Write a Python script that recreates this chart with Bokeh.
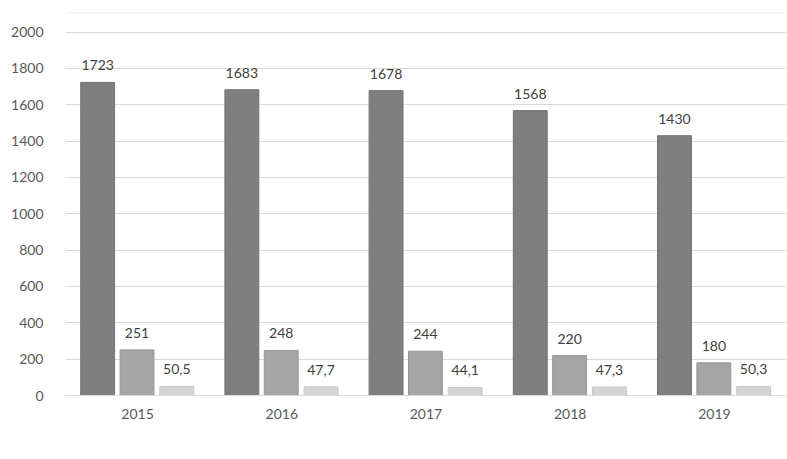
from bokeh.plotting import figure
from bokeh.models import (ColumnDataSource, FactorRange, LabelSet, Legend, LegendItem,
                          FixedTicker, Span)
from bokeh.core.properties import value
from bokeh.transform import dodge
from bokeh.embed import file_html
from bokeh.resources import INLINE

# Data
years = ["2015", "2016", "2017", "2018", "2019"]
victims = [1723, 1683, 1678, 1568, 1430]
deaths = [251, 248, 244, 220, 180]
severity = [50.5, 47.7, 44.1, 47.3, 50.3]
series_names = ["Number of victims", "Number of death", "occupational injury severity rate"]
y_ticks = [0, 200, 400, 600, 800, 1000, 1200, 1400, 1600, 1800, 2000]

FONT = "Lato"
colors = ["#7f7f7f", "#a5a5a5", "#d4d4d4"]
edges = ["#727272", "#989898", "#c8c8c8"]
Y_TOP = 2108  # headroom above the last gridline, up to the chart's top rule


def fmt(v):
    if isinstance(v, float):
        return f"{v:.1f}".replace(".", ",")
    return str(v)


source = ColumnDataSource(dict(
    year=years,
    victims=victims,
    deaths=deaths,
    severity=severity,
    victims_lbl=[fmt(v) for v in victims],
    deaths_lbl=[fmt(v) for v in deaths],
    severity_lbl=[fmt(v) for v in severity],
))

p = figure(
    x_range=FactorRange(*years, range_padding=0),
    y_range=(0, Y_TOP),
    frame_width=721, frame_height=383,
    output_backend="svg", toolbar_location=None,
    min_border_left=65, min_border_right=1, min_border_top=12, min_border_bottom=0,
    background_fill_color="white", border_fill_color="white",
)
p.outline_line_color = None

offsets = [-0.277, -0.004, 0.272]
cols = ["victims", "deaths", "severity"]
renderers = []
for col, off, c, e in zip(cols, offsets, colors, edges):
    r = p.vbar(x=dodge("year", off, range=p.x_range), top=col, width=0.235,
               source=source, fill_color=c, line_color=e, line_width=1)
    renderers.append(r)
    labels = LabelSet(x=dodge("year", off, range=p.x_range), y=col, text=col + "_lbl",
                      source=source, text_align="center", text_baseline="bottom",
                      y_offset=12, text_font=value(FONT), text_font_size=value("14px"),
                      text_color="#404040")
    p.add_layout(labels)

# Thin rule across the top of the chart area
p.add_layout(Span(location=Y_TOP, dimension="width", line_color="#dedede", line_width=1))

# Axes
p.yaxis.ticker = FixedTicker(ticks=y_ticks)
p.yaxis.axis_line_color = None
p.yaxis.major_tick_line_color = None
p.yaxis.minor_tick_line_color = None
p.yaxis.major_label_text_font = FONT
p.yaxis.major_label_text_font_size = "14px"
p.yaxis.major_label_text_color = "#595959"
p.yaxis.major_label_standoff = 16

p.xaxis.axis_line_color = "#d9d9d9"
p.xaxis.major_tick_line_color = None
p.xaxis.minor_tick_line_color = None
p.xaxis.major_label_text_font = FONT
p.xaxis.major_label_text_font_size = "14px"
p.xaxis.major_label_text_color = "#595959"
p.xaxis.major_label_standoff = 7

p.xgrid.grid_line_color = None
p.ygrid.grid_line_color = "#d9d9d9"
p.ygrid.grid_line_width = 1

legend = Legend(
    items=[LegendItem(label=n, renderers=[r]) for n, r in zip(series_names, renderers)],
    orientation="horizontal", location="top_center",
    label_text_font=FONT, label_text_font_size="13px", label_text_color="#595959",
    glyph_width=9, glyph_height=9, label_standoff=4, spacing=30,
    label_height=14, padding=0, margin=0,
    border_line_color=None, background_fill_alpha=0,
)
p.add_layout(legend, "below")

with open("out.html", "w") as f:
    f.write(file_html(p, INLINE))
